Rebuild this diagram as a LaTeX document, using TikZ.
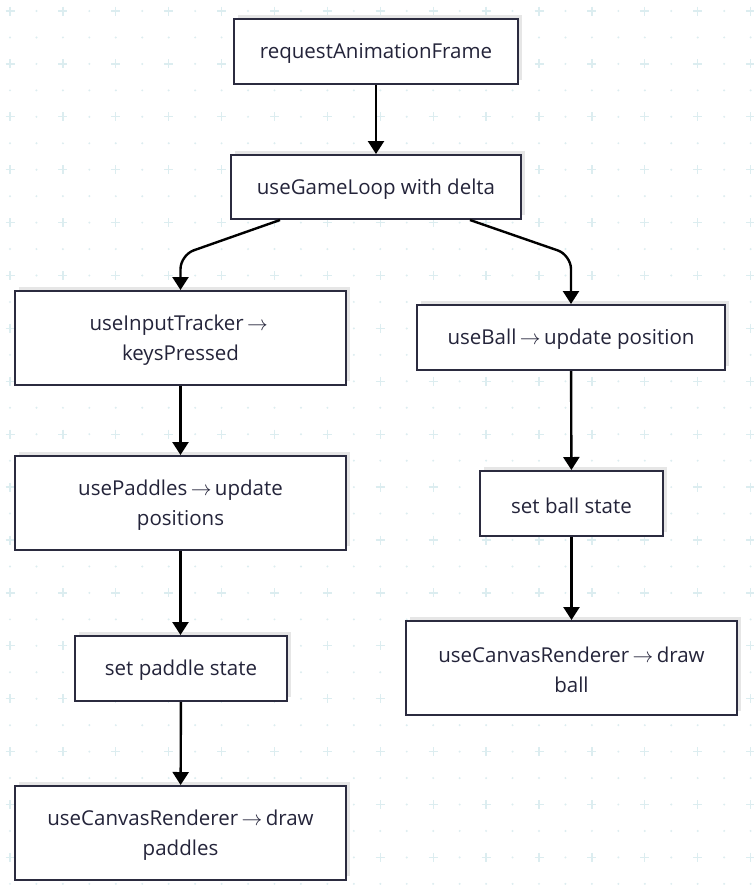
\documentclass[tikz,border=0pt]{standalone}
\usepackage{fontspec}
\setmainfont{Open Sans}
\usetikzlibrary{arrows.meta,calc}
\definecolor{boxline}{HTML}{2B2B3F}
\definecolor{txt}{HTML}{24243A}
\definecolor{gridc}{HTML}{DCEDF0}
\definecolor{shad}{HTML}{E6E6E6}
\newcommand{\ar}{\,$\rightarrow$\,}
\tikzset{
  box/.style={draw=boxline, line width=2pt, fill=white, inner sep=0pt},
  lbl/.style={text=txt, align=center, font=\fontsize{20.5}{30}\selectfont, inner sep=0pt},
  conn/.style={line width=2.4pt, draw=black, -{Triangle[width=16pt,length=13pt]}},
  curv/.style={conn, rounded corners=14pt},
}
\newcommand{\mybox}[6]{% name, cx, cy, w, h, text
  \fill[shad] (#2-#4/2+4, #3-#5/2-4) rectangle (#2+#4/2+4, #3+#5/2-4);
  \node[box, minimum width=#4pt, minimum height=#5pt] (#1) at (#2,#3) {};
  \node[lbl] (#1-t) at ([yshift=-2pt]#1.center) {#6};
}
\begin{document}
\begin{tikzpicture}[x=1pt,y=-1pt]
\useasboundingbox (0,0) rectangle (754,892);
\fill[white] (0,0) rectangle (754,892);
% grid
\foreach \i in {0,...,28} {
  \foreach \j in {0,...,33} {
    \pgfmathsetmacro{\xx}{10+26.45*\i}
    \pgfmathsetmacro{\yy}{11+26.45*\j}
    \pgfmathtruncatemacro{\ev}{(mod(\i,2)==0) && (mod(\j,2)==0)}
    \ifnum\ev=1
      \draw[gridc, line width=1.3pt] (\xx-4.5,\yy) -- (\xx+4.5,\yy) (\xx,\yy-4.5) -- (\xx,\yy+4.5);
    \else
      \fill[gridc] (\xx,\yy) circle (1.1);
    \fi
  }
}
% boxes (y grows downward)
\mybox{raf}{376}{51.5}{284}{65}{requestAnimationFrame}
\mybox{loop}{376}{187}{290}{64}{useGameLoop with delta}
\mybox{input}{180.5}{338}{331}{94}{useInputTracker\ar\\keysPressed}
\mybox{ball}{571}{337.5}{308}{65}{useBall\ar update position}
\mybox{pad}{180.5}{503}{331}{94}{usePaddles\ar update\\positions}
\mybox{bstate}{571.5}{503.5}{183}{65}{set ball state}
\mybox{pstate}{181}{668.5}{212}{65}{set paddle state}
\mybox{rball}{571.5}{668}{331}{94}{useCanvasRenderer\ar draw\\ball}
\mybox{rpad}{180.5}{833}{331}{94}{useCanvasRenderer\ar draw\\paddles}
% connectors
\draw[conn] (raf) -- (loop);
\draw[curv] ([xshift=-96pt]loop.south) -- (180.5,255) -- (input.north);
\draw[curv] ([xshift=94pt]loop.south) -- (571,255) -- (ball.north);
\draw[conn] (input) -- (pad);
\draw[conn] (pad.south) -- (pstate.north -| pad.south);
\draw[conn] (pstate) -- (rpad);
\draw[conn] (ball) -- (bstate);
\draw[conn] (bstate) -- (rball);
\end{tikzpicture}
\end{document}
